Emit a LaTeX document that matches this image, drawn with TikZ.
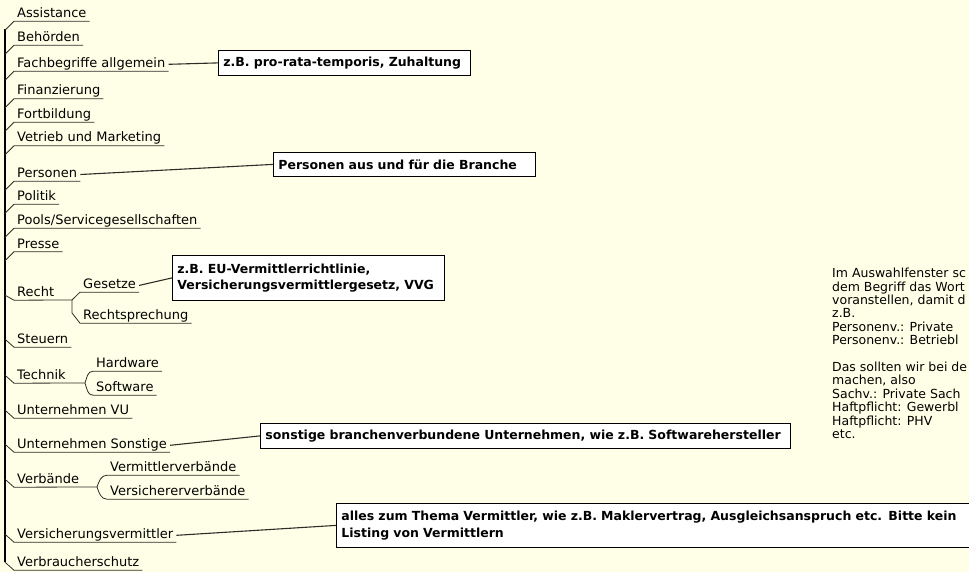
\documentclass[tikz,border=0pt]{standalone}
\usepackage{fontspec}
\setmainfont{DejaVu Sans}
\definecolor{mapbg}{RGB}{255,255,231}
\definecolor{twigcol}{RGB}{45,45,40}
\tikzset{
  topic/.style={anchor=base west, inner xsep=3pt, inner ysep=0pt, text depth=3.5pt, font=\fontsize{13}{15}\selectfont},
  twig/.style={draw=twigcol, line width=0.8pt},
  spine/.style={draw=black, line width=1.6pt},
  feeder/.style={draw=twigcol, line width=1.1pt},
  note/.style={draw=black, fill=white, line width=0.8pt, anchor=north west, inner xsep=5pt, align=left, font=\bfseries\fontsize{12.5}{16.5}\selectfont},
  remark/.style={anchor=north west, inner sep=0pt, align=left, font=\fontsize{12.5}{13.4}\selectfont}
}
\begin{document}
\begin{tikzpicture}[x=1pt, y=1pt]
\fill[mapbg] (0,0) rectangle (969,-572);
\clip (0,0) rectangle (969,-572);
% main spine
\coordinate (stop) at (5,-29);
\coordinate (sbot) at (5,-562);
\draw[spine] (stop) -- (sbot);
% topics
\node[topic] (assist) at (14,-17.5) {Assistance};
\node[topic] (behoerden) at (14,-41.5) {Behörden};
\node[topic] (fach) at (14,-67.5) {Fachbegriffe allgemein};
\node[topic] (finanz) at (14,-95) {Finanzierung};
\node[topic] (fortbild) at (14,-118.5) {Fortbildung};
\node[topic] (vetrieb) at (14,-142) {Vetrieb und Marketing};
\node[topic] (personen) at (14,-177.5) {Personen};
\node[topic] (politik) at (14,-200.5) {Politik};
\node[topic] (pools) at (14,-224.5) {Pools/Servicegesellschaften};
\node[topic] (presse) at (14,-248) {Presse};
\node[topic] (recht) at (14,-296.5) {Recht};
\node[topic] (gesetze) at (80,-288.5) {Gesetze};
\node[topic] (rspr) at (80,-319.5) {Rechtsprechung};
\node[topic] (steuern) at (14,-343.5) {Steuern};
\node[topic] (technik) at (14,-379.5) {Technik};
\node[topic] (hardware) at (93,-367.5) {Hardware};
\node[topic] (software) at (93,-391.5) {Software};
\node[topic] (vu) at (14,-414.5) {Unternehmen VU};
\node[topic] (sonstige) at (14,-448.5) {Unternehmen Sonstige};
\node[topic] (verbaende) at (14,-483.5) {Verbände};
\node[topic] (vmverb) at (107,-471.5) {Vermittlerverbände};
\node[topic] (vsverb) at (107,-495.5) {Versichererverbände};
\node[topic] (vvermittler) at (14,-538.5) {Versicherungsvermittler};
\node[topic] (vschutz) at (14,-566.5) {Verbraucherschutz};
% branches above the root
\draw[twig] (assist.south east) -- (assist.south west) -- ++(-9,-9);
\draw[twig] (behoerden.south east) -- (behoerden.south west) -- ++(-9,-9);
\draw[twig] (fach.south east) -- (fach.south west) -- ++(-9,-9);
\draw[twig] (finanz.south east) -- (finanz.south west) -- ++(-9,-9);
\draw[twig] (fortbild.south east) -- (fortbild.south west) -- ++(-9,-9);
\draw[twig] (vetrieb.south east) -- (vetrieb.south west) -- ++(-9,-9);
\draw[twig] (personen.south east) -- (personen.south west) -- ++(-9,-9);
\draw[twig] (politik.south east) -- (politik.south west) -- ++(-9,-9);
\draw[twig] (pools.south east) -- (pools.south west) -- ++(-9,-9);
\draw[twig] (presse.south east) -- (presse.south west) -- ++(-9,-9);
% branches below the root
\coordinate (rj) at (72,-300);
\draw[twig] (rj) -- (recht.south west) -- ++(-9,5);
\draw[twig] (rj) -- (gesetze.south west) -- (gesetze.south east);
\draw[twig] (rj) -- ++(0,-13) -- (rspr.south west) -- (rspr.south east);
\draw[twig] (steuern.south east) -- (steuern.south west) -- ++(-9,8);
\coordinate (tj) at (85,-383);
\draw[twig] (tj) -- (technik.south west) -- ++(-9,8);
\draw[twig] (tj) to[out=70,in=180] (hardware.south west) -- (hardware.south east);
\draw[twig] (tj) to[out=-70,in=180] (software.south west) -- (software.south east);
\draw[twig] (vu.south east) -- (vu.south west) -- ++(-9,8);
\draw[twig] (sonstige.south east) -- (sonstige.south west) -- ++(-9,8);
\coordinate (vj) at (97,-487);
\draw[twig] (vj) -- (verbaende.south west) -- ++(-9,8);
\draw[twig] (vj) to[out=70,in=180] (vmverb.south west) -- (vmverb.south east);
\draw[twig] (vj) to[out=-70,in=180] (vsverb.south west) -- (vsverb.south east);
\draw[twig] (vvermittler.south east) -- (vvermittler.south west) -- ++(-9,8);
\draw[twig] (vschutz.south east) -- (vschutz.south west) -- ++(-9,8);
% notes
\node[note, text width=242pt, minimum height=25pt] (fachnote) at (218,-50) {z.B. pro-rata-temporis, Zuhaltung};
\node[note, text width=252pt, minimum height=24pt] (personote) at (273,-152) {Personen aus und für die Branche};
\node[note, text width=262pt, minimum height=45pt] (gesetznote) at (172,-255) {z.B. EU-Vermittlerrichtlinie,\\Versicherungsvermittlergesetz, VVG};
\node[note, text width=520pt, minimum height=25pt] (sonstnote) at (260,-423) {sonstige branchenverbundene Unternehmen, wie z.B. Softwarehersteller};
\node[note, text width=650pt, minimum height=44pt] (vermnote) at (336,-503) {alles zum Thema Vermittler, wie z.B. Maklervertrag, Ausgleichsanspruch etc. Bitte kein\\Listing von Vermittlern};
\draw[feeder] (fach.east) -- (fachnote.west);
\draw[feeder] (personen.east) -- (personote.west);
\draw[feeder] (gesetze.east) -- (gesetznote.west);
\draw[feeder] (sonstige.east) -- (sonstnote.west);
\draw[feeder] (vvermittler.east) -- (vermnote.west);
% free text on the right
\node[remark] (hint) at (832,-268) {Im Auswahlfenster sc\\dem Begriff das Wort\\voranstellen, damit d\\z.B.\\Personenv.: Private\\Personenv.: Betriebl\\~\\Das sollten wir bei de\\machen, also\\Sachv.: Private Sach\\Haftpflicht: Gewerbl\\Haftpflicht: PHV\\etc.};
\end{tikzpicture}
\end{document}
